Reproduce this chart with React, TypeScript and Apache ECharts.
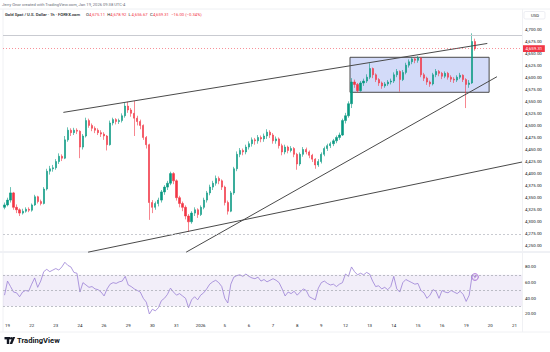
import React, { useEffect, useRef } from "react";
import * as echarts from "echarts";

// ---- data ----
const dayLabels = ["19", "22", "23", "24", "26", "29", "30", "31", "2026", "5", "6", "7", "8", "9", "12", "13", "14", "15", "16", "19", "20", "21"];
const SLOTS_PER_DAY = 8;
const FIRST_LABEL_SLOT = 1;
const TOTAL_SLOTS = 172;

// [open, close, low, high] per 3-hour slot
const candles: number[][] = [
  [4330, 4335, 4326, 4340], [4335, 4345, 4332, 4350], [4345, 4360, 4340, 4372], [4360, 4330, 4325, 4362],
  [4330, 4325, 4318, 4336], [4325, 4318, 4312, 4328], [4318, 4322, 4315, 4327], [4322, 4326, 4319, 4330],
  [4326, 4324, 4320, 4330], [4324, 4335, 4321, 4338], [4335, 4352, 4333, 4356], [4352, 4342, 4338, 4354],
  [4342, 4338, 4334, 4346], [4338, 4368, 4336, 4372], [4368, 4405, 4365, 4410], [4405, 4410, 4398, 4416],
  [4410, 4412, 4404, 4418], [4412, 4425, 4408, 4430], [4425, 4436, 4420, 4442], [4436, 4432, 4426, 4440],
  [4432, 4470, 4430, 4478], [4470, 4490, 4466, 4496], [4490, 4485, 4478, 4494], [4485, 4490, 4480, 4495],
  [4490, 4488, 4482, 4494], [4488, 4455, 4432, 4490], [4455, 4478, 4450, 4482], [4478, 4510, 4475, 4516],
  [4510, 4500, 4495, 4514], [4500, 4494, 4488, 4504], [4494, 4490, 4484, 4498], [4490, 4485, 4480, 4494],
  [4485, 4482, 4476, 4490], [4482, 4478, 4470, 4486], [4478, 4460, 4448, 4480], [4460, 4505, 4458, 4510],
  [4505, 4512, 4500, 4516], [4512, 4508, 4502, 4515], [4508, 4510, 4503, 4514], [4510, 4520, 4506, 4525],
  [4520, 4540, 4516, 4547], [4540, 4532, 4526, 4549], [4532, 4525, 4518, 4536], [4525, 4515, 4478, 4551],
  [4515, 4508, 4500, 4520], [4508, 4500, 4492, 4512], [4500, 4475, 4470, 4502], [4475, 4460, 4452, 4478],
  [4460, 4340, 4304, 4462], [4340, 4330, 4318, 4345], [4330, 4338, 4325, 4342], [4338, 4345, 4332, 4350],
  [4345, 4362, 4340, 4366], [4362, 4372, 4356, 4376], [4372, 4380, 4366, 4385], [4380, 4400, 4376, 4404],
  [4400, 4385, 4378, 4403], [4385, 4350, 4344, 4388], [4350, 4338, 4330, 4354], [4338, 4330, 4322, 4342],
  [4330, 4312, 4305, 4334], [4312, 4300, 4279, 4316], [4300, 4318, 4296, 4322], [4318, 4325, 4312, 4330],
  [4325, 4315, 4308, 4328], [4315, 4330, 4312, 4334], [4330, 4345, 4326, 4350], [4345, 4360, 4340, 4364],
  [4360, 4372, 4355, 4377], [4372, 4380, 4366, 4385], [4380, 4390, 4375, 4396], [4390, 4385, 4378, 4394],
  [4385, 4372, 4366, 4388], [4372, 4340, 4334, 4375], [4340, 4322, 4315, 4344], [4322, 4360, 4320, 4364],
  [4360, 4410, 4356, 4414], [4410, 4440, 4405, 4446], [4440, 4448, 4434, 4453], [4448, 4445, 4438, 4452],
  [4445, 4455, 4440, 4460], [4455, 4462, 4450, 4467], [4462, 4470, 4456, 4475], [4470, 4468, 4460, 4474],
  [4468, 4475, 4462, 4480], [4475, 4472, 4465, 4479], [4472, 4478, 4466, 4483], [4478, 4486, 4472, 4492],
  [4486, 4480, 4474, 4490], [4480, 4468, 4462, 4484], [4468, 4472, 4462, 4477], [4472, 4458, 4452, 4475],
  [4458, 4445, 4438, 4462], [4445, 4455, 4440, 4460], [4455, 4448, 4442, 4458], [4448, 4452, 4444, 4457],
  [4452, 4440, 4434, 4455], [4440, 4420, 4408, 4443], [4420, 4440, 4416, 4444], [4440, 4450, 4435, 4455],
  [4450, 4445, 4440, 4454], [4445, 4438, 4432, 4448], [4438, 4430, 4424, 4441], [4430, 4418, 4410, 4432],
  [4418, 4425, 4414, 4430], [4425, 4440, 4421, 4444], [4440, 4452, 4436, 4456], [4452, 4458, 4447, 4462],
  [4458, 4462, 4453, 4466], [4462, 4468, 4457, 4472], [4468, 4475, 4463, 4479], [4475, 4480, 4470, 4485],
  [4480, 4510, 4478, 4514], [4510, 4520, 4504, 4526], [4520, 4545, 4516, 4550], [4545, 4590, 4536, 4598],
  [4590, 4585, 4578, 4595], [4585, 4572, 4568, 4588], [4572, 4588, 4570, 4592], [4588, 4592, 4582, 4597],
  [4592, 4600, 4588, 4606], [4600, 4618, 4596, 4629], [4618, 4605, 4598, 4620], [4605, 4595, 4590, 4608],
  [4595, 4588, 4582, 4598], [4588, 4582, 4576, 4591], [4582, 4586, 4578, 4590], [4586, 4590, 4582, 4594],
  [4590, 4592, 4585, 4597], [4592, 4605, 4588, 4610], [4605, 4612, 4600, 4617], [4612, 4595, 4570, 4614],
  [4595, 4610, 4592, 4615], [4610, 4625, 4606, 4630], [4625, 4632, 4620, 4637], [4632, 4638, 4627, 4642],
  [4638, 4635, 4629, 4641], [4635, 4640, 4630, 4644], [4640, 4605, 4600, 4642], [4605, 4598, 4592, 4609],
  [4598, 4590, 4584, 4601], [4590, 4586, 4580, 4593], [4586, 4605, 4583, 4609], [4605, 4612, 4600, 4617],
  [4612, 4608, 4602, 4615], [4608, 4602, 4596, 4611], [4602, 4608, 4598, 4612], [4608, 4600, 4595, 4611],
  [4600, 4596, 4590, 4604], [4596, 4594, 4588, 4600], [4594, 4600, 4590, 4604], [4600, 4604, 4596, 4609],
  [4604, 4595, 4590, 4606], [4595, 4585, 4536, 4598], [4585, 4588, 4578, 4594], [4588, 4674, 4586, 4691],
  [4674, 4659, 4655, 4680],
];

const rsi: number[] = [
  44, 62, 55, 48, 47, 42, 48, 50, 49, 58, 66, 54, 62, 74, 77, 74, 76, 78, 76, 80,
  86, 82, 80, 73, 72, 48, 60, 57, 54, 55, 52, 51, 48, 43, 52, 58, 60, 59, 61, 62,
  68, 57, 55, 52, 50, 48, 40, 35, 20, 26, 24, 28, 37, 40, 45, 53, 48, 44, 46, 43,
  40, 28, 38, 42, 38, 44, 47, 52, 58, 61, 63, 60, 55, 40, 34, 58, 67, 69, 70, 68,
  71, 68, 66, 65, 67, 62, 64, 61, 63, 65, 63, 60, 52, 43, 48, 46, 49, 44, 48, 52,
  50, 42, 40, 38, 53, 60, 62, 59, 57, 58, 55, 58, 60, 71, 68, 80, 74, 70, 72, 70,
  73, 71, 62, 55, 56, 52, 54, 51, 55, 68, 52, 48, 60, 64, 62, 60, 58, 59, 50, 47,
  40, 44, 51, 49, 40, 50, 48, 47, 50, 48, 46, 49, 45, 36, 44, 70, 67,
];

const priceTickRange = [4250, 4700];
const rsiTicks = [20, 40, 60, 80];
const rsiLevels = [70, 50, 30];
const lastPrice = 4659.31;
const lastPriceLabel = "4,659.31";
const horizontalLevels = [4687.5, 4275];

// trend lines & box in (slot index, price)
const upperLine = [[19.5, 4527], [160, 4670]];
const lowerLine = [[27.7, 4237], [171.5, 4424]];
const steepLine = [[60.2, 4237], [163.2, 4601]];
const boxCorners = [[114.5, 4641.3], [160.6, 4568.7]];

const headerLine1 = "Jerry Onor created with TradingView.com, Jan 19, 2026 09:38 UTC-4";
const headerSymbol = "Gold Spot / U.S. Dollar · 1h · FOREX.com";
const headerOHLC = [
  ["O", "4,675.11"],
  ["H", "4,678.92"],
  ["L", "4,656.67"],
  ["C", "4,659.31"],
];
const headerChange = "−16.00 (−0.34%)";

const FONT = "Roboto, 'Noto Sans', sans-serif";
const FS = 4.4;

function slotLabel(i: number): string {
  if (i < FIRST_LABEL_SLOT) return "";
  if ((i - FIRST_LABEL_SLOT) % SLOTS_PER_DAY !== 0) return "";
  return dayLabels[(i - FIRST_LABEL_SLOT) / SLOTS_PER_DAY] ?? "";
}

function fmtPrice(v: number) {
  return v.toLocaleString("en-US", { minimumFractionDigits: 2, maximumFractionDigits: 2 });
}

export default function App() {
  const ref = useRef<HTMLDivElement>(null);
  useEffect(() => {
    const chart = echarts.init(ref.current!, null, { renderer: "svg" });
    const categories = Array.from({ length: TOTAL_SLOTS }, (_, i) => String(i));
    const red = "#f23645";
    const green = "#089981";
    const lineColor = "#4a4a4a";
    const sep = "#e0e3eb";

    const headerGraphics: any[] = [];
    headerGraphics.push({
      type: "text", left: 2, top: 2.5,
      style: { text: headerLine1, fontSize: 4.1, fill: "#6a6d78", fontFamily: FONT },
    });
    headerGraphics.push({
      type: "text", left: 5, top: 12.5,
      style: { text: headerSymbol, fontSize: 4.2, fill: "#131722", fontFamily: FONT, fontWeight: 500 },
    });
    let hx = 86;
    headerOHLC.forEach(([k, v]) => {
      headerGraphics.push({ type: "text", left: hx, top: 12.5, style: { text: k, fontSize: 4.2, fill: "#131722", fontFamily: FONT } });
      headerGraphics.push({ type: "text", left: hx + 3, top: 12.5, style: { text: v, fontSize: 4.2, fill: red, fontFamily: FONT } });
      hx += 21.3;
    });
    headerGraphics.push({ type: "text", left: hx, top: 12.5, style: { text: headerChange, fontSize: 4.2, fill: red, fontFamily: FONT } });

    const option: any = {
      animation: false,
      backgroundColor: "#ffffff",
      grid: [
        { left: 3, right: 28, top: 16.95, height: 241 },
        { left: 3, right: 28, top: 251.3, height: 70.5 },
      ],
      xAxis: [
        { type: "category", gridIndex: 0, data: categories, boundaryGap: true, show: false },
        {
          type: "category", gridIndex: 1, data: categories, boundaryGap: true,
          axisLine: { show: false }, axisTick: { show: false }, splitLine: { show: false },
          axisLabel: {
            interval: 0, margin: 1.8, fontSize: FS, color: "#131722", fontFamily: FONT,
            formatter: (_v: string, i: number) => slotLabel(i),
          },
        },
        { type: "value", gridIndex: 0, min: -0.5, max: TOTAL_SLOTS - 0.5, show: false },
      ],
      yAxis: [
        {
          type: "value", gridIndex: 0, position: "right", min: 4225, max: 4725, interval: 25,
          axisLine: { show: false }, axisTick: { show: false }, splitLine: { show: false },
          axisLabel: {
            margin: 3, fontSize: FS, color: "#131722", fontFamily: FONT,
            formatter: (v: number) => (v < priceTickRange[0] || v > priceTickRange[1] ? "" : fmtPrice(v)),
          },
        },
        {
          type: "value", gridIndex: 1, position: "right", min: 10, max: 100, interval: 10,
          axisLine: { show: false }, axisTick: { show: false }, splitLine: { show: false },
          axisLabel: {
            margin: 3, fontSize: FS, color: "#131722", fontFamily: FONT,
            formatter: (v: number) => (rsiTicks.includes(v) ? v.toFixed(2) : ""),
          },
        },
      ],
      series: [
        {
          type: "line", xAxisIndex: 2, yAxisIndex: 0, data: [], z: 1, silent: true,
          markArea: {
            silent: true,
            itemStyle: { color: "rgba(80,110,230,0.25)", borderColor: "#4a4a4a", borderWidth: 1 },
            data: [[{ coord: boxCorners[0] }, { coord: boxCorners[1] }]],
          },
        },
        {
          type: "candlestick", xAxisIndex: 0, yAxisIndex: 0, data: candles, z: 2, silent: true,
          barWidth: 1.7,
          itemStyle: { color: green, color0: red, borderColor: green, borderColor0: red, borderWidth: 0.6 },
          markLine: {
            silent: true, symbol: ["none", "none"],
            data: [
              { yAxis: horizontalLevels[0], lineStyle: { color: "#c9cbd1", width: 1, type: "solid" }, label: { show: false } },
              { yAxis: horizontalLevels[1], lineStyle: { color: "#c9cbd1", width: 1, type: [2, 2] }, label: { show: false } },
              {
                yAxis: lastPrice,
                lineStyle: { color: "rgba(242,54,69,0.55)", width: 1, type: [1, 2] },
                label: {
                  show: true, position: "end", distance: 1, formatter: lastPriceLabel,
                  backgroundColor: red, color: "#fff", fontSize: FS, fontFamily: FONT,
                  padding: [1.6, 2.5, 1.2, 2.5],
                },
              },
            ],
          },
        },
        ...[upperLine, lowerLine, steepLine].map((d) => ({
          type: "line", xAxisIndex: 2, yAxisIndex: 0, data: d, z: 3, silent: true,
          symbol: "none", lineStyle: { color: lineColor, width: 1 },
        })),
        {
          type: "line", xAxisIndex: 1, yAxisIndex: 1, data: rsi, z: 3, silent: true,
          symbol: "none", lineStyle: { color: "#9a80d6", width: 0.8 },
          markArea: {
            silent: true, itemStyle: { color: "rgba(126,87,194,0.1)" },
            data: [[{ yAxis: rsiLevels[2] }, { yAxis: rsiLevels[0] }]],
          },
          markLine: {
            silent: true, symbol: ["none", "none"], label: { show: false },
            lineStyle: { color: "#a3a6af", width: 0.7, type: [2, 2] },
            data: rsiLevels.map((v) => ({ yAxis: v })),
          },
        },
      ],
      graphic: [
        ...headerGraphics,
        { type: "line", shape: { x1: 0, y1: 9, x2: 550, y2: 9 }, style: { stroke: "#eef0f3", lineWidth: 1 } },
        { type: "line", shape: { x1: 0, y1: 252, x2: 550, y2: 252 }, style: { stroke: sep, lineWidth: 1 } },
        { type: "line", shape: { x1: 0, y1: 332, x2: 550, y2: 332 }, style: { stroke: "#f0f1f4", lineWidth: 1 } },
        { type: "line", shape: { x1: 522.5, y1: 9, x2: 522.5, y2: 332 }, style: { stroke: "#f0f1f4", lineWidth: 1 } },
        { type: "line", shape: { x1: 3, y1: 9, x2: 3, y2: 332 }, style: { stroke: "#f0f1f4", lineWidth: 1 } },
        {
          type: "rect", shape: { x: 524, y: 11.5, width: 21, height: 7.5, r: 1.5 },
          style: { fill: "#fff", stroke: "#e0e3eb", lineWidth: 0.6 },
        },
        { type: "text", x: 531, y: 13.2, style: { text: "USD", fontSize: 4.2, fill: "#131722", fontFamily: FONT } },
        // purple marker icon
        { type: "circle", shape: { cx: 475, cy: 277, r: 3.3 }, style: { fill: "#fff", stroke: "#a05bd0", lineWidth: 0.9 } },
        { type: "polyline", shape: { points: [[474, 278.5], [476.3, 276], [474.6, 276], [476.2, 275.2]] }, style: { stroke: "#a05bd0", lineWidth: 0.7, fill: null } },
        // TradingView logo
        { type: "rect", shape: { x: 4.5, y: 337, width: 5.5, height: 2.4 }, style: { fill: "#131722" } },
        { type: "rect", shape: { x: 6.8, y: 337, width: 2.4, height: 7 }, style: { fill: "#131722" } },
        { type: "circle", shape: { cx: 11.2, cy: 338.3, r: 1.3 }, style: { fill: "#131722" } },
        { type: "polygon", shape: { points: [[12.6, 337], [15.2, 337], [12.2, 344], [9.6, 344]] }, style: { fill: "#131722" } },
        {
          type: "text", left: 17, top: 336.2,
          style: { text: "TradingView", fontSize: 7.6, fontWeight: 700, fill: "#131722", fontFamily: FONT },
        },
      ],
    };
    chart.setOption(option);
    return () => chart.dispose();
  }, []);
  return <div ref={ref} style={{ position: "absolute", left: 0, top: 0, width: 550, height: 352 }} />;
}
